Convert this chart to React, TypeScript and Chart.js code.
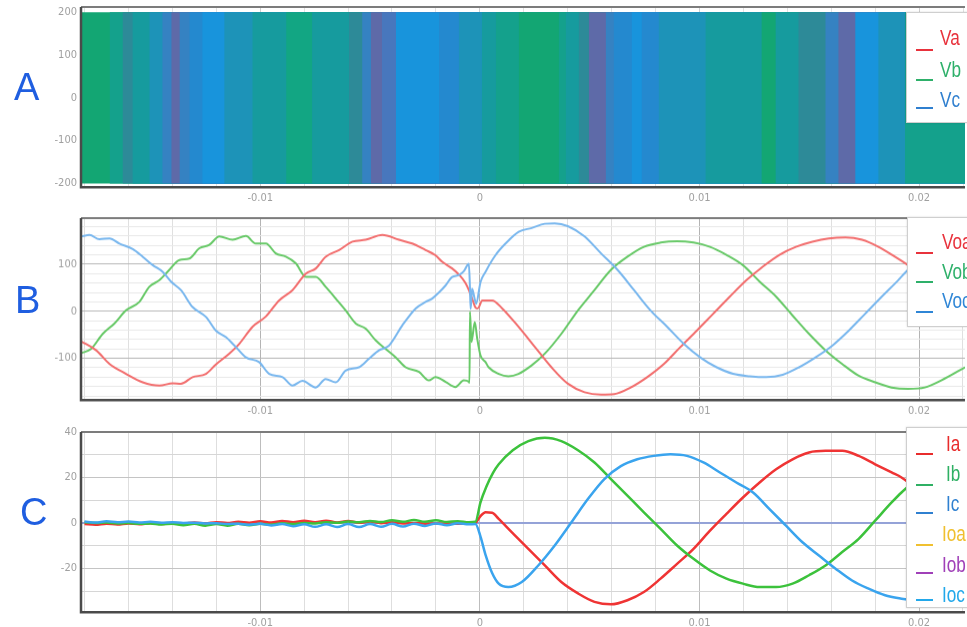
import React, { useEffect, useRef } from "react";
import { Chart, registerables } from "chart.js";
Chart.register(...registerables);

// ---------------- shared time axis (seconds) ----------------
const xMin = -0.01816;
const xMax = 0.02209;
const xGridTicks = [-0.018, -0.016, -0.014, -0.012, -0.01, -0.008, -0.006, -0.004, -0.002, 0, 0.002, 0.004, 0.006, 0.008, 0.01, 0.012, 0.014, 0.016, 0.018, 0.02, 0.022];
const xLabelTicks = [-0.01, 0, 0.01, 0.02];

// ---------------- Panel A: PWM voltages Va, Vb, Vc ----------------
const pwmHigh = 200;
const pwmLow = -200;
const aYTicks = [-200, -100, 0, 100, 200];
// dominant blended colour of the dense switching lines, band by band
const stripeStart = [-0.01816, -0.01686, -0.01627, -0.01582, -0.01505, -0.01446, -0.01405, -0.01368, -0.01323, -0.01264, -0.01164, -0.01036, -0.00882, -0.00764, -0.00596, -0.00536, -0.00496, -0.00446, -0.00382, -0.00186, -0.00096, 0.00009, 0.00073, 0.00177, 0.00359, 0.00391, 0.0045, 0.00496, 0.00573, 0.00609, 0.00691, 0.00736, 0.00814, 0.01027, 0.01282, 0.01346, 0.0145, 0.01573, 0.01632, 0.01709, 0.01814, 0.01936];
const stripeTone = ["g", "tg", "dt", "t", "tb", "s", "p", "s", "b2", "B", "tb", "t", "g2", "t", "dt", "s", "p", "pb", "B", "b2", "tb", "t", "tg", "g", "tg", "t", "dt", "p", "s", "b2", "B", "b2", "tb", "t", "g", "t", "dt", "s", "p", "B", "tb", "tg"];

// ---------------- Panel B: output voltages ----------------
const bYTicks = [-180, -160, -140, -120, -100, -80, -60, -40, -20, 0, 20, 40, 60, 80, 100, 120, 140, 160, 180];
const bYLabels = [-100, 0, 100];
const voaTime = [-0.01815, -0.01747, -0.01686, -0.01611, -0.01535, -0.01459, -0.01398, -0.01361, -0.01308, -0.01247, -0.01202, -0.01141, -0.01095, -0.01035, -0.00974, -0.00914, -0.00853, -0.00792, -0.00747, -0.00702, -0.00641, -0.0058, -0.0052, -0.00444, -0.00368, -0.00308, -0.00247, -0.00202, -0.00171, -0.00126, -0.00095, -0.00065, -0.0005, -0.00042, -0.00035, -0.0002, -0.00012, -0.00005, 0.00011, 0.00056, 0.00102, 0.00176, 0.00251, 0.00326, 0.00401, 0.00477, 0.00552, 0.00612, 0.00687, 0.00762, 0.00838, 0.00913, 0.00988, 0.01063, 0.01138, 0.01214, 0.01289, 0.01364, 0.01439, 0.01514, 0.01589, 0.01665, 0.0174, 0.01815, 0.0189, 0.0195, 0.02026, 0.02101, 0.0221];
const voaValue = [-64, -83, -112, -133, -151, -158, -153, -154, -140, -133, -113, -90, -69, -33, -11, 23, 45, 80, 91, 116, 130, 148, 152, 162, 152, 144, 130, 119, 105, 91, 78, 60, 45, 35, 27, 8, 6, 8, 23, 23, 6, -33, -76, -119, -154, -172, -177, -176, -162, -140, -112, -76, -41, -5, 31, 66, 95, 120, 137, 148, 155, 157, 152, 137, 116, 98, 73, 45, 7];
const vobTime = [-0.01815, -0.0177, -0.01717, -0.01664, -0.01611, -0.0155, -0.01505, -0.01459, -0.01414, -0.01368, -0.01323, -0.01277, -0.01232, -0.01186, -0.01126, -0.01065, -0.0102, -0.00974, -0.00929, -0.00883, -0.00838, -0.00792, -0.00747, -0.00702, -0.00656, -0.00611, -0.00565, -0.0052, -0.00474, -0.00429, -0.00383, -0.00338, -0.00277, -0.00232, -0.00202, -0.00156, -0.00111, -0.00073, -0.0005, -0.00047, -0.00045, -0.00038, -0.00023, -0.00012, 0.00003, 0.00026, 0.0004, 0.00086, 0.0013, 0.00176, 0.00236, 0.00296, 0.00371, 0.00447, 0.00522, 0.00597, 0.00672, 0.00747, 0.00823, 0.00898, 0.00973, 0.01048, 0.01123, 0.01198, 0.01274, 0.01349, 0.01424, 0.01499, 0.01574, 0.0165, 0.01725, 0.018, 0.01875, 0.0195, 0.02026, 0.02101, 0.0221];
const vobValue = [-89, -80, -48, -26, 2, 20, 52, 66, 88, 109, 112, 134, 141, 159, 152, 160, 144, 144, 123, 116, 102, 73, 73, 52, 27, 2, -26, -37, -62, -80, -98, -119, -129, -147, -140, -150, -161, -147, -150, -152, -1, -65, -23, -58, -94, -108, -119, -133, -138, -133, -115, -90, -48, 2, 45, 88, 116, 137, 146, 149, 146, 137, 120, 98, 63, 31, -9, -48, -83, -112, -137, -151, -162, -165, -162, -147, -119];
const vocTime = [-0.01815, -0.01777, -0.01732, -0.01686, -0.01641, -0.0158, -0.01535, -0.01489, -0.01444, -0.01406, -0.01361, -0.01308, -0.01247, -0.01202, -0.01156, -0.01111, -0.01065, -0.01005, -0.00959, -0.00898, -0.00853, -0.00808, -0.00747, -0.00702, -0.00656, -0.00611, -0.0055, -0.00505, -0.00459, -0.00414, -0.00353, -0.00292, -0.00247, -0.00217, -0.00186, -0.00156, -0.00126, -0.00095, -0.00073, -0.0005, -0.00045, -0.00042, -0.00038, -0.00035, -0.00023, -0.00017, 0.00003, 0.00026, 0.00071, 0.00117, 0.00177, 0.00236, 0.00296, 0.00341, 0.00401, 0.00477, 0.00552, 0.00627, 0.00702, 0.00777, 0.00853, 0.00928, 0.01003, 0.01078, 0.01153, 0.01229, 0.01304, 0.01379, 0.01454, 0.01529, 0.01605, 0.0168, 0.01755, 0.0183, 0.01905, 0.0195, 0.02026, 0.02101, 0.0221];
const vocValue = [159, 162, 153, 155, 144, 132, 116, 98, 84, 63, 45, 9, -12, -41, -55, -76, -98, -108, -133, -140, -158, -148, -162, -144, -151, -126, -119, -101, -83, -73, -30, 6, 20, 27, 40, 55, 73, 77, 85, 101, 50, 5, 30, 48, 25, 16, 62, 84, 119, 144, 169, 177, 186, 187, 181, 159, 123, 88, 45, 2, -33, -69, -98, -119, -133, -138, -140, -135, -119, -98, -73, -41, -5, 31, 66, 88, 109, 134, 157];

// ---------------- Panel C: currents ----------------
const cYTicks = [-30, -20, -10, 0, 10, 20, 30, 40];
const cYLabels = [-20, 0, 20, 40];
const cPreTime = [-0.018, -0.0175, -0.017, -0.0165, -0.016, -0.0155, -0.015, -0.0145, -0.014, -0.0135, -0.013, -0.0125, -0.012, -0.0115, -0.011, -0.0105, -0.01, -0.0095, -0.009, -0.0085, -0.008, -0.0075, -0.007, -0.0065, -0.006, -0.0055, -0.005, -0.0045, -0.004, -0.0035, -0.003, -0.0025, -0.002, -0.0015, -0.001, -0.0005];
const iaPre = [-0.5, -0.8, -0.3, -0.7, -0.2, -0.6, -0.1, -0.5, 0, -0.3, 0.2, -0.2, 0.3, 0, 0.5, 0.1, 0.7, 0.2, 0.9, 0.3, 1.0, 0.3, 1.0, 0.2, 0.9, 0.1, 0.6, -0.1, 0.3, -0.2, 0, -0.3, -0.2, -0.4, -0.3, -0.4];
const ibPre = [0.3, 0, 0.2, -0.2, 0, -0.4, -0.2, -0.7, -0.3, -1.0, -0.4, -1.2, -0.5, -1.2, -0.4, -1.0, -0.3, -0.8, -0.1, -0.5, 0, -0.2, 0.3, 0.1, 0.6, 0.3, 0.9, 0.4, 1.2, 0.5, 1.3, 0.5, 1.2, 0.4, 0.8, 0.3];
const icPre = [0.6, 0.2, 0.7, 0.3, 0.6, 0.2, 0.5, 0.1, 0.3, 0, 0.1, -0.2, -0.1, -0.5, -0.3, -0.8, -0.4, -1.1, -0.5, -1.4, -0.6, -1.7, -0.6, -1.8, -0.5, -1.8, -0.5, -1.7, -0.4, -1.6, -0.3, -1.3, -0.2, -1.0, -0.1, -0.6];
const iaPostTime = [-0.0002, 0.00003, 0.00026, 0.00056, 0.00086, 0.00146, 0.00221, 0.00296, 0.00371, 0.00447, 0.00522, 0.00597, 0.00672, 0.00747, 0.00823, 0.00898, 0.00973, 0.01048, 0.01123, 0.01198, 0.01274, 0.01349, 0.01424, 0.01499, 0.01574, 0.0165, 0.01725, 0.018, 0.01875, 0.0192, 0.02026, 0.02101, 0.0221];
const iaPost = [0, 3, 4.7, 4.5, 1.8, -4.1, -11.4, -18.7, -26, -31, -34.7, -35.8, -34, -30.4, -24.5, -18, -11.4, -3.4, 4, 11.2, 17.8, 23.6, 28, 31, 31.7, 31.7, 29.5, 25.8, 22.2, 20, 12, 5.4, -1.2];
const ibPostTime = [-0.0002, 0.00003, 0.0003, 0.0006, 0.00086, 0.0015, 0.00221, 0.00296, 0.00371, 0.00447, 0.00522, 0.00597, 0.00672, 0.00747, 0.00823, 0.00898, 0.00973, 0.01048, 0.01123, 0.01198, 0.01274, 0.01349, 0.01424, 0.01499, 0.01574, 0.0165, 0.01725, 0.018, 0.01875, 0.0192, 0.02026, 0.02101, 0.0221];
const ibPost = [0.5, 9, 16, 22, 25.8, 32, 36, 37.5, 36, 32, 26.6, 19.3, 12, 4.7, -2.6, -9.9, -15.8, -20.9, -24.5, -26.7, -28.2, -28.2, -26.7, -23, -18.7, -12.8, -7, 1, 9, 13.4, 22, 28, 34];
const icPostTime = [-0.0002, 0.00003, 0.00026, 0.00056, 0.00086, 0.0013, 0.00191, 0.00266, 0.00341, 0.00417, 0.00492, 0.00567, 0.00642, 0.00717, 0.00792, 0.00868, 0.00943, 0.01018, 0.01093, 0.01168, 0.01244, 0.01319, 0.01394, 0.01469, 0.01544, 0.0162, 0.01695, 0.0177, 0.01845, 0.0192, 0.02026, 0.02101, 0.0221];
const icPost = [-0.5, -6, -14, -22, -26.7, -28.2, -26, -18.7, -9.9, 0.3, 10.5, 19.3, 25, 28, 29.5, 30.2, 29.5, 26.6, 22.2, 17.8, 13.4, 6.1, -1.2, -8.5, -14.3, -20.1, -25.3, -28.9, -31.8, -33.3, -34.7, -35.5, -35.8];
const ioTime = [-0.01816, 0.02209];
const ioaValue = [0, 0];
const iobValue = [0, 0];
const iocValue = [0, 0];

// ---------------- styling ----------------
const W = 967;
const tickFont = "'Liberation Sans Narrow', 'DejaVu Sans Condensed', 'Liberation Sans', Arial, sans-serif";
const legendFont = "'Liberation Sans Narrow', 'Liberation Sans', Arial, sans-serif";
const toneColor: Record<string, string> = {
  g: "#13a673", g2: "#12a683", tg: "#14a18c", t: "#169b9e", dt: "#2d8a98",
  tb: "#1d93b8", s: "#3582c2", b2: "#2489cf", B: "#1894dc", p: "#5e6aa8", pb: "#4877bd",
};

const pts = (t: number[], v: number[]) => t.map((x, i) => ({ x, y: v[i] }));
const has = (arr: number[], v: any) => typeof v === "number" && arr.some((a) => Math.abs(a - v) < 1e-9);

const lineDs = (data: any[], color: string, width: number) => ({
  data, borderColor: color, borderWidth: width, pointRadius: 0, fill: false,
  cubicInterpolationMode: "monotone",
});

const framePlugin = {
  id: "frame",
  afterDraw(chart: any) {
    const { ctx, chartArea: a } = chart;
    ctx.save();
    ctx.strokeStyle = "#7c7c7c";
    ctx.lineWidth = 2;
    ctx.beginPath();
    ctx.moveTo(a.left, a.top);
    ctx.lineTo(a.right, a.top);
    ctx.stroke();
    ctx.strokeStyle = "#4a4a4a";
    ctx.lineWidth = 2.5;
    ctx.beginPath();
    ctx.moveTo(a.left, a.top);
    ctx.lineTo(a.left, a.bottom);
    ctx.lineTo(a.right, a.bottom);
    ctx.stroke();
    ctx.restore();
  },
};

type PanelProps = {
  plotTop: number;
  plotBottom: number;
  yMin: number;
  yMax: number;
  yTicks: number[];
  yLabels: number[];
  showYGrid: boolean;
  yMajor: string;
  yMinor: string;
  xMajor: string;
  xMinor: string;
  datasets: any[];
};

const PAD_TOP = 24;
const BELOW = 32;
const X_AXIS_H = 21;

function Panel(p: PanelProps) {
  const ref = useRef<HTMLCanvasElement>(null);
  const canvasTop = p.plotTop - PAD_TOP;
  const height = p.plotBottom - canvasTop + BELOW;
  useEffect(() => {
    if (!ref.current) return;
    const chart = new Chart(ref.current, {
      type: "line",
      data: { datasets: p.datasets },
      options: {
        animation: false,
        responsive: true,
        maintainAspectRatio: false,
        events: [],
        layout: { padding: { top: PAD_TOP, bottom: BELOW - X_AXIS_H, left: 0, right: 0 } },
        plugins: { legend: { display: false }, tooltip: { enabled: false } },
        scales: {
          x: {
            type: "linear",
            min: xMin,
            max: xMax,
            border: { display: false },
            afterBuildTicks: (ax: any) => {
              ax.ticks = xGridTicks.map((v) => ({ value: v }));
            },
            ticks: {
              autoSkip: false,
              maxRotation: 0,
              padding: 4,
              color: "#a0a0a0",
              font: { family: tickFont, size: 11 },
              callback: (v: any) => (has(xLabelTicks, Number(v)) ? (Number(v) === 0 ? "0" : String(Number(v))) : ""),
            },
            grid: {
              drawTicks: false,
              lineWidth: 1,
              color: (ctx: any) => (has(xLabelTicks, ctx.tick?.value) ? p.xMajor : p.xMinor),
            },
          },
          y: {
            type: "linear",
            min: p.yMin,
            max: p.yMax,
            border: { display: false },
            afterBuildTicks: (ax: any) => {
              ax.ticks = p.yTicks.map((v) => ({ value: v }));
            },
            afterFit: (s: any) => {
              s.width = 81;
            },
            ticks: {
              autoSkip: false,
              padding: 4,
              color: "#a0a0a0",
              font: { family: tickFont, size: 11 },
              callback: (v: any) => (has(p.yLabels, Number(v)) ? String(Number(v)) : ""),
            },
            grid: {
              display: p.showYGrid,
              drawTicks: false,
              lineWidth: 1,
              color: (ctx: any) => (has(p.yLabels, ctx.tick?.value) ? p.yMajor : p.yMinor),
            },
          },
        },
      } as any,
      plugins: [framePlugin],
    });
    return () => chart.destroy();
  }, []);
  return (
    <div style={{ position: "absolute", left: 0, top: canvasTop, width: W, height }}>
      <canvas ref={ref} />
    </div>
  );
}

type LegendItem = { label: string; color: string; textY: number; markY: number; textX: number };

function Legend({ top, bottom, left, items }: { top: number; bottom: number; left: number; items: LegendItem[] }) {
  return (
    <>
      <div
        style={{
          position: "absolute", left, top, width: 90, height: bottom - top,
          background: "#fff", border: "1px solid #cfcfcf", boxSizing: "border-box",
          boxShadow: "0 0 2px rgba(0,0,0,0.15)",
        }}
      />
      {items.map((it) => (
        <React.Fragment key={it.label}>
          <div style={{ position: "absolute", left: 916, top: it.markY - 1, width: 17, height: 2, background: it.color }} />
          <div
            style={{
              position: "absolute", left: it.textX, top: it.textY - 12, height: 24, lineHeight: "24px",
              fontFamily: legendFont, fontSize: 22, color: it.color, whiteSpace: "nowrap",
              transform: "scaleX(0.78)", transformOrigin: "left center",
            }}
          >
            {it.label}
          </div>
        </React.Fragment>
      ))}
    </>
  );
}

const letterStyle = (left: number, top: number): React.CSSProperties => ({
  position: "absolute", left, top, fontFamily: "'Liberation Sans', Arial, sans-serif",
  fontSize: 38, lineHeight: "38px", color: "#1f5ee0",
});

export default function App() {
  // Chart.js paints dataset 0 last (on top), so later bands come first.
  const aDatasets = stripeStart
    .map((s, i) => ({
      data: [{ x: s, y: pwmHigh }, { x: xMax, y: pwmHigh }],
      fill: { value: pwmLow },
      backgroundColor: toneColor[stripeTone[i]],
      borderWidth: 0,
      pointRadius: 0,
    }))
    .reverse();
  const bDatasets = [
    lineDs(pts(vocTime, vocValue), "#79b7ee", 2),
    lineDs(pts(voaTime, voaValue), "#f26e6e", 2),
    lineDs(pts(vobTime, vobValue), "#68c968", 2),
  ];
  const cDatasets = [
    lineDs(pts([...cPreTime, ...icPostTime], [...icPre, ...icPost]), "#3aa4ee", 2.5),
    lineDs(pts([...cPreTime, ...ibPostTime], [...ibPre, ...ibPost]), "#3cc23c", 2.5),
    lineDs(pts([...cPreTime, ...iaPostTime], [...iaPre, ...iaPost]), "#ef3434", 2.5),
    lineDs(pts(ioTime, iobValue), "#a99cdc", 1.5),
    lineDs(pts(ioTime, iocValue), "#2ab0ee", 1.5),
    lineDs(pts(ioTime, ioaValue), "#f2c230", 1.5),
  ];
  return (
    <div style={{ position: "absolute", left: 0, top: 0, width: W, height: 627, overflow: "hidden", background: "#fff" }}>
      <Panel plotTop={6.5} plotBottom={187} yMin={-209} yMax={212} yTicks={aYTicks} yLabels={aYTicks}
        showYGrid={false} yMajor="#ddd" yMinor="#eee" xMajor="#cfcfcf" xMinor="#e2e2e2" datasets={aDatasets} />
      <Panel plotTop={218} plotBottom={399.5} yMin={-189} yMax={198} yTicks={bYTicks} yLabels={bYLabels}
        showYGrid={true} yMajor="#b8b8b8" yMinor="#e8e8e8" xMajor="#b4b4b4" xMinor="#e0e0e0" datasets={bDatasets} />
      <Panel plotTop={431.5} plotBottom={612} yMin={-39.3} yMax={40} yTicks={cYTicks} yLabels={cYLabels}
        showYGrid={true} yMajor="#c4c4c4" yMinor="#d6d6d6" xMajor="#bdbdbd" xMinor="#dedede" datasets={cDatasets} />

      <div style={letterStyle(14, 68)}>A</div>
      <div style={letterStyle(15, 281)}>B</div>
      <div style={letterStyle(20, 493)}>C</div>

      <Legend top={12} bottom={123} left={906} items={[
        { label: "Va", color: "#e8323c", textY: 38, markY: 50, textX: 940 },
        { label: "Vb", color: "#2eb06a", textY: 70, markY: 80, textX: 940 },
        { label: "Vc", color: "#2f7fcf", textY: 100, markY: 108, textX: 940 },
      ]} />
      <Legend top={217} bottom={327} left={907} items={[
        { label: "Voa", color: "#e8323c", textY: 242, markY: 253, textX: 942 },
        { label: "Vob", color: "#2eb06a", textY: 272, markY: 282, textX: 942 },
        { label: "Voc", color: "#2f86d6", textY: 301, markY: 312, textX: 942 },
      ]} />
      <Legend top={427} bottom={608} left={906} items={[
        { label: "Ia", color: "#e82c2c", textY: 444, markY: 454, textX: 946 },
        { label: "Ib", color: "#2fb064", textY: 474, markY: 485, textX: 946 },
        { label: "Ic", color: "#2f80d0", textY: 504, markY: 513, textX: 946 },
        { label: "Ioa", color: "#f0c030", textY: 534, markY: 545, textX: 942 },
        { label: "Iob", color: "#a040b8", textY: 565, markY: 573, textX: 942 },
        { label: "Ioc", color: "#22a8ea", textY: 595, markY: 600, textX: 942 },
      ]} />
    </div>
  );
}
